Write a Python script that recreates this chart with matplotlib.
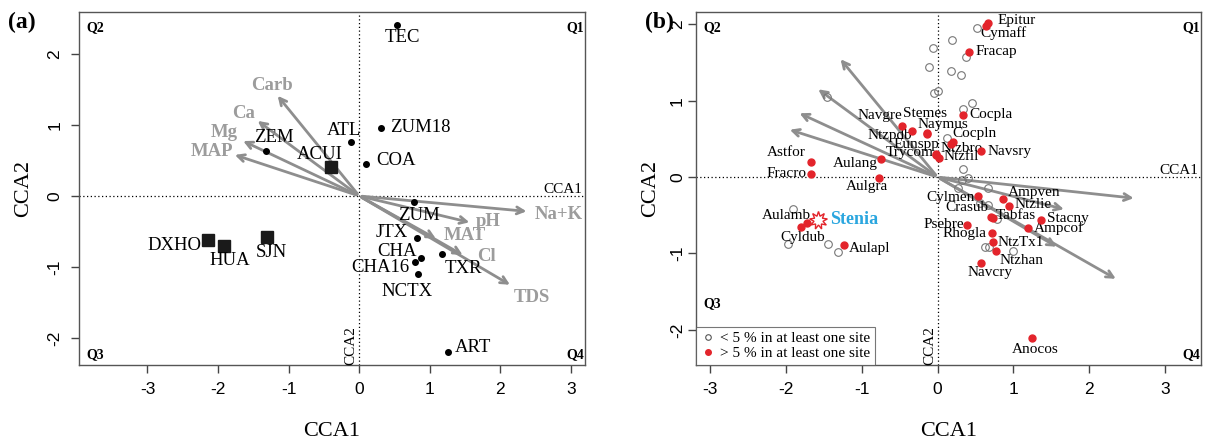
import numpy as np
import matplotlib
matplotlib.use("Agg")
from matplotlib import pyplot as plt
from matplotlib.lines import Line2D

plt.rcParams['font.family'] = ['Liberation Serif', 'DejaVu Serif']
plt.rcParams['axes.unicode_minus'] = False

# ---- panel (a): sites ----
site_names = ["TEC", "ZUM18", "ATL", "COA", "ZEM", "ZUM", "JTX", "CHA", "CHA16", "NCTX", "TXR", "ART"]
site_x = [0.54, 0.31, -0.11, 0.09, -1.32, 0.77, 0.82, 0.87, 0.79, 0.84, 1.18, 1.26]
site_y = [2.41, 0.96, 0.76, 0.45, 0.63, -0.08, -0.59, -0.87, -0.93, -1.10, -0.82, -2.20]

sq_names = ["ACUI", "DXHO", "HUA", "SJN"]
sq_x = [-0.40, -2.14, -1.91, -1.30]
sq_y = [0.41, -0.62, -0.70, -0.58]

env_names = ["Carb", "Ca", "Mg", "MAP", "Na+K", "pH", "MAT", "Cl", "TDS"]
env_x = [-1.18, -1.47, -1.68, -1.80, 2.41, 1.60, 1.12, 1.50, 2.17]
env_y = [1.44, 1.08, 0.79, 0.59, -0.22, -0.38, -0.62, -0.85, -1.27]

# ---- panel (b): species ----
sp_names = ["Epitur", "Cymaff", "Fracap", "Cocpla", "Cocpln", "Ntzbro", "Navsry", "Ntzfil",
            "Trycom", "Eunspp", "Ntzpdb", "Stemes", "Naymus", "Navgre", "Astfor", "Fracro",
            "Aulang", "Aulgra", "Aulamb", "Cyldub", "Aulapl", "Cylmen", "Crasub", "Tabfas",
            "Ampven", "Ntzlie", "Stacny", "Ampcof", "Psebre", "Rhogla", "NtzTx1", "Ntzhan",
            "Navcry", "Anocos"]
sp_x = [0.66, 0.64, 0.41, 0.34, 0.20, 0.18, 0.57, 0.02,
        -0.02, -0.02, -0.34, -0.14, -0.14, -0.47, -1.66, -1.66,
        -0.74, -0.77, -1.72, -1.80, -1.23, 0.53, 0.70, 0.73,
        0.86, 0.94, 1.36, 1.19, 0.39, 0.72, 0.73, 0.77,
        0.57, 1.24]
sp_y = [2.01, 1.98, 1.64, 0.81, 0.46, 0.43, 0.34, 0.25,
        0.29, 0.30, 0.60, 0.58, 0.56, 0.67, 0.20, 0.04,
        0.24, -0.01, -0.60, -0.66, -0.89, -0.25, -0.52, -0.54,
        -0.29, -0.38, -0.56, -0.67, -0.63, -0.73, -0.85, -0.97,
        -1.13, -2.11]

rare_x = [0.52, 0.19, -0.06, 0.38, -0.11, 0.18, 0.31, -0.05, 0.01, 0.45, 0.34, -1.45, 0.12,
          0.34, 0.32, 0.40, 0.66, 0.27, 0.56, 0.66, 0.78, 0.62, 0.68, 0.99,
          -1.90, -1.97, -1.44, -1.31]
rare_y = [1.95, 1.80, 1.69, 1.57, 1.44, 1.39, 1.34, 1.10, 1.13, 0.97, 0.89, 1.05, 0.51,
          0.10, -0.04, -0.01, -0.14, -0.14, -0.34, -0.37, -0.55, -0.92, -0.92, -0.97,
          -0.42, -0.87, -0.87, -0.98]

stenia_x, stenia_y = -1.57, -0.56

vec_x = [-1.30, -1.60, -1.85, -1.98, 2.62, 1.70, 1.60, 2.38]
vec_y = [1.57, 1.17, 0.85, 0.63, -0.28, -0.43, -0.93, -1.35]

# label offsets (points)
site_off = [(3.6, -9.4), (28, 0), (-5, 8.6), (21.6, 2.2), (5.8, 10), (3.6, -10),
            (-18, 3.6), (-17.3, 4.3), (-25.2, -4.3), (-7.9, -12.2), (15.1, -10), (18, 3.6)]
sq_off = [(-7.9, 8.6), (-24.5, -4.3), (3.6, -10.8), (2.9, -10.8)]
env_off = [(-2.9, 5.8), (-8.6, 4.3), (-11.5, 5), (-14.4, 2.2), (20.9, -2.2),
           (11.5, 0.7), (19.4, 2.9), (15.1, 0), (14.4, -7.9)]
sp_off = [(20.9, 2.2), (12.2, -5.0), (20.2, 0), (20.2, 0.7), (15.8, 5.8), (7.2, -2.9),
          (20.9, 0), (15.8, 0.7), (-18.7, 1.4), (-13.7, 7.2), (-15.8, -2.9), (-1.4, 13.7),
          (11.5, 7.2), (-15.8, 7.2), (-18, 6.5), (-18, 0.7), (-18.7, -3.6), (-8.6, -6.5),
          (-15.1, 5.0), (1.4, -7.2), (18.7, -2.2), (-19.4, -0.7), (-17.3, 6.5), (16.6, 2.2),
          (22.3, 5.0), (17.3, 1.4), (19.4, 0.7), (22.3, 0), (-16.6, 0.7), (-20.2, -0.7),
          (20.2, -0.7), (18.7, -6.5), (6.5, -6.5), (2.2, -7.9)]

arrow_col = "#8e8e8e"
label_grey = "#9c9c9c"
red = "#e3242b"

fig = plt.figure(figsize=(12.05, 4.41), dpi=100)
ax1 = fig.add_axes([0.0656, 0.1723, 0.4199, 0.8005])
ax2 = fig.add_axes([0.5776, 0.1723, 0.4191, 0.8005])


def frame(ax, xlim, ylim, ypad, ytickpad):
    ax.set_xlim(*xlim)
    ax.set_ylim(*ylim)
    ax.set_xticks([-3, -2, -1, 0, 1, 2, 3])
    ax.set_yticks([-2, -1, 0, 1, 2])
    ax.tick_params(colors="#444444", length=6, width=1, labelsize=12.5, pad=6)
    ax.tick_params(axis="y", labelrotation=90, pad=ytickpad)
    for lbl in ax.get_yticklabels():
        lbl.set_va("center")
    for lbl in ax.get_xticklabels() + ax.get_yticklabels():
        lbl.set_fontfamily("Liberation Sans")
        lbl.set_color("black")
    for s in ax.spines.values():
        s.set_color("#555555")
        s.set_linewidth(1)
    ax.axhline(0, color="black", lw=0.9, ls=(0, (1, 2)), zorder=1)
    ax.axvline(0, color="black", lw=0.9, ls=(0, (1, 2)), zorder=1)
    ax.set_xlabel("CCA1", fontsize=16, labelpad=18)
    ax.set_ylabel("CCA2", fontsize=16, labelpad=ypad)
    ax.text(0.995, 0, "CCA1", transform=ax.get_yaxis_transform(), ha="right", va="bottom",
            fontsize=11)
    ax.text(-0.02, 0.0, "CCA2", transform=ax.get_xaxis_transform(), ha="right", va="bottom",
            rotation=90, fontsize=11)
    ax.text(0.015, 0.975, "Q2", transform=ax.transAxes, ha="left", va="top", fontsize=10, fontweight="bold")
    ax.text(0.998, 0.975, "Q1", transform=ax.transAxes, ha="right", va="top", fontsize=10, fontweight="bold")
    ax.text(0.998, 0.01, "Q4", transform=ax.transAxes, ha="right", va="bottom", fontsize=10, fontweight="bold")


# panel a
frame(ax1, (-3.97, 3.2), (-2.38, 2.59), 10, 6)
ax1.text(0.015, 0.01, "Q3", transform=ax1.transAxes, ha="left", va="bottom", fontsize=10, fontweight="bold")
for ex, ey in zip(env_x, env_y):
    ax1.annotate("", xy=(ex, ey), xytext=(0, 0),
                 arrowprops=dict(arrowstyle="->,head_length=0.5,head_width=0.25", color=arrow_col, lw=2))
for name, ex, ey, off in zip(env_names, env_x, env_y, env_off):
    ax1.annotate(name, (ex, ey), xytext=off, textcoords="offset points", ha="center", va="center",
                 fontsize=13.5, fontweight="bold", color=label_grey)
ax1.plot(site_x, site_y, "o", color="black", ms=4, zorder=3)
ax1.plot(sq_x, sq_y, "s", color="#1a1a1a", ms=8, zorder=3)
for name, sx, sy, off in zip(site_names + sq_names, site_x + sq_x, site_y + sq_y, site_off + sq_off):
    ax1.annotate(name, (sx, sy), xytext=off, textcoords="offset points", ha="center", va="center",
                 fontsize=13.5)

# panel b
frame(ax2, (-3.18, 3.47), (-2.46, 2.16), 7, 2)
for vx, vy in zip(vec_x, vec_y):
    ax2.annotate("", xy=(vx, vy), xytext=(0, 0),
                 arrowprops=dict(arrowstyle="->,head_length=0.5,head_width=0.25", color=arrow_col, lw=2))
ax2.plot(rare_x, rare_y, "o", mfc="none", mec="#777777", mew=0.8, ms=5.5, zorder=3)
ax2.plot(sp_x, sp_y, "o", color=red, ms=5, zorder=4)
for name, sx, sy, off in zip(sp_names, sp_x, sp_y, sp_off):
    ax2.annotate(name, (sx, sy), xytext=off, textcoords="offset points", ha="center", va="center",
                 fontsize=11)
ax2.plot(stenia_x, stenia_y, marker=(9, 1, 0), mfc="white", mec=red, mew=1, ms=13, zorder=5)
ax2.annotate("Stenia", (stenia_x, stenia_y), xytext=(26, 0), textcoords="offset points",
             ha="center", va="center", fontsize=13, fontweight="bold", color="#2aa6df")
ax2.text(0.015, 0.155, "Q3", transform=ax2.transAxes, ha="left", va="bottom", fontsize=10, fontweight="bold")
handles = [Line2D([], [], ls="none", marker="o", mfc="none", mec="#555555", mew=0.8, ms=4),
           Line2D([], [], ls="none", marker="o", color=red, ms=4)]
leg = ax2.legend(handles, ["< 5 % in at least one site", "> 5 % in at least one site"],
                 loc="lower left", borderaxespad=0, fontsize=11, handletextpad=0.3,
                 handlelength=1.0, labelspacing=0.1, borderpad=0.3, fancybox=False)
leg.get_frame().set_edgecolor("#555555")
leg.get_frame().set_linewidth(0.8)

fig.text(0.007, 0.95, "(a)", fontsize=17, fontweight="bold", ha="left", va="center")
fig.text(0.535, 0.95, "(b)", fontsize=17, fontweight="bold", ha="left", va="center")

fig.savefig("out.png", dpi=100)
